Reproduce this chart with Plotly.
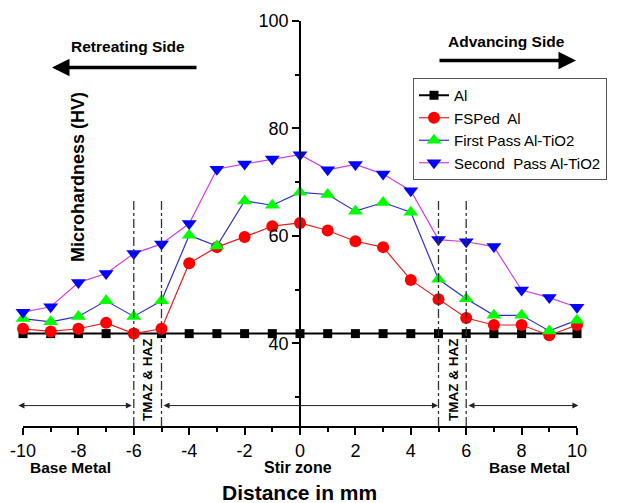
import plotly.graph_objects as go

# ---- data ----
distance = [-10, -9, -8, -7, -6, -5, -4, -3, -2, -1, 0, 1, 2, 3, 4, 5, 6, 7, 8, 9, 10]
al = [41.8] * 21
fsped_al = [42.7, 42.2, 42.7, 43.8, 41.8, 42.7, 54.9, 57.9, 59.8, 61.8, 62.4,
            61.0, 59.0, 57.9, 51.8, 48.2, 44.7, 43.4, 43.4, 41.5, 43.4]
first_pass = [44.6, 44.0, 45.0, 47.9, 45.0, 47.9, 60.1, 58.1, 66.5, 65.7, 68.1,
              67.7, 64.6, 66.2, 64.4, 51.9, 48.3, 45.2, 45.2, 42.3, 44.3]
second_pass = [45.8, 46.8, 51.3, 53.0, 56.7, 58.5, 62.3, 72.4, 73.4, 74.3, 75.1,
               72.3, 73.3, 71.5, 68.4, 59.3, 58.9, 58.0, 49.9, 48.5, 46.7]
series_names = ["Al", "FSPed\u00a0 Al", "First Pass Al-TiO2", "Second\u00a0 Pass Al-TiO2"]
x_ticks = [-10, -8, -6, -4, -2, 0, 2, 4, 6, 8, 10]
x_ticktext = ["-10", "-8", "-6", "-4", "-2", "0", "2", "4", "6", "8", "10"]
y_ticks = [40, 60, 80, 100]
zone_bounds = [-6, -5, 5, 6]

FONT = "Arial, Liberation Sans, sans-serif"
W, H = 625, 503
L, R, T, B = 23, 48, 21, 77
Y0, Y1 = 24.6, 100

def pxx(p):
    return (p - L) / (W - L - R)

def pxy(p):
    return (H - B - p) / (H - T - B)

fig = go.Figure()
fig.add_trace(go.Scatter(x=distance, y=al, name=series_names[0], mode="lines+markers",
                         line=dict(color="black", width=2),
                         marker=dict(symbol="square", size=9, color="black"), cliponaxis=False))
fig.add_trace(go.Scatter(x=distance, y=fsped_al, name=series_names[1], mode="lines+markers",
                         line=dict(color="#e02020", width=1.2),
                         marker=dict(symbol="circle", size=12, color="#ff0000"), cliponaxis=False))
fig.add_trace(go.Scatter(x=distance, y=first_pass, name=series_names[2], mode="lines+markers",
                         line=dict(color="#3030c8", width=1.2),
                         marker=dict(symbol="triangle-up", size=13, color="#00ff00"), cliponaxis=False))
fig.add_trace(go.Scatter(x=distance, y=second_pass, name=series_names[3], mode="lines+markers",
                         line=dict(color="#d040d8", width=1.2),
                         marker=dict(symbol="triangle-down", size=13, color="#0000ff"), cliponaxis=False))

shapes = []
for xb in zone_bounds:
    shapes.append(dict(type="line", xref="x", yref="y", x0=xb, x1=xb, y0=Y0, y1=66.8,
                       line=dict(color="#333333", width=1.3, dash="dashdot")))

annotations = []
# zone arrows (double headed)
for (xa, xb) in [(-10.22, -6.07), (-4.98, 4.98), (6.03, 10.05)]:
    annotations.append(dict(x=xb, y=28.4, ax=xa, ay=28.4, xref="x", yref="y", axref="x", ayref="y",
                            showarrow=True, arrowhead=2, arrowside="end+start", arrowsize=1.2,
                            arrowwidth=1, arrowcolor="#222222", standoff=0, startstandoff=0, text=""))
# top side arrows
annotations.append(dict(x=pxx(52), y=pxy(67.5), ax=pxx(198), ay=pxy(67.5), xref="x domain", yref="y domain",
                        axref="x domain", ayref="y domain", showarrow=True, arrowhead=2, arrowsize=1,
                        arrowwidth=3.5, arrowcolor="black", standoff=0, text=""))
annotations.append(dict(x=pxx(576), y=pxy(60.5), ax=pxx(438), ay=pxy(60.5), xref="x domain", yref="y domain",
                        axref="x domain", ayref="y domain", showarrow=True, arrowhead=2, arrowsize=1,
                        arrowwidth=3.5, arrowcolor="black", standoff=0, text=""))

def txt(s, x, y, size, angle=0, bold=True):
    return dict(text=(f"<b>{s}</b>" if bold else s), x=pxx(x), y=pxy(y), xref="paper", yref="paper",
                showarrow=False, textangle=angle, xanchor="center", yanchor="middle",
                font=dict(family=FONT, size=size, color="black"))

annotations += [
    txt("Retreating Side", 128, 46, 15.5),
    txt("Advancing Side", 506, 41, 15.5),
    txt("Microhardness (HV)", 78, 177, 18, angle=-90),
    txt("TMAZ &amp; HAZ", 147, 380, 13.5, angle=-90),
    txt("TMAZ &amp; HAZ", 453, 380, 13.5, angle=-90),
    txt("Base Metal", 70, 468, 15.5),
    txt("Stir zone", 298, 468, 16),
    txt("Base Metal", 529, 468, 15.5),
    txt("Distance in mm", 299, 492, 21),
]

fig.update_layout(
    width=W, height=H,
    margin=dict(l=L, r=R, t=T, b=B, autoexpand=False),
    paper_bgcolor="white", plot_bgcolor="white",
    font=dict(family=FONT, color="black"),
    shapes=shapes, annotations=annotations,
    legend=dict(x=pxx(413), y=pxy(78), xanchor="left", yanchor="top",
                bgcolor="white", bordercolor="#555555", borderwidth=1,
                font=dict(family=FONT, size=15, color="black"), tracegroupgap=0,
                itemwidth=30),
    xaxis=dict(range=[-10, 10], tickvals=x_ticks, ticktext=x_ticktext, ticks="outside",
               ticklen=7, tickwidth=1.5,
               tickcolor="black", showline=True, linecolor="black", linewidth=1.8,
               showgrid=False, zeroline=False, tickfont=dict(size=18, family=FONT),
               minor=dict(tickvals=[-9, -7, -5, -3, -1, 1, 3, 5, 7, 9], ticks="outside",
                          ticklen=4, tickwidth=1.5, tickcolor="black")),
    yaxis=dict(range=[Y0, Y1], tickvals=y_ticks, ticks="outside", ticklen=7, tickwidth=1.5,
               tickcolor="black", showline=True, linecolor="black", linewidth=1.8,
               anchor="free", position=0.5, side="left",
               showgrid=False, zeroline=False, tickfont=dict(size=18, family=FONT),
               minor=dict(tickvals=[30, 50, 70, 90], ticks="outside", ticklen=4,
                          tickwidth=1.5, tickcolor="black")),
)

fig.write_html("out.html", config={"displayModeBar": False},
               post_script="document.body.style.margin='0';document.body.style.overflow='hidden';")
